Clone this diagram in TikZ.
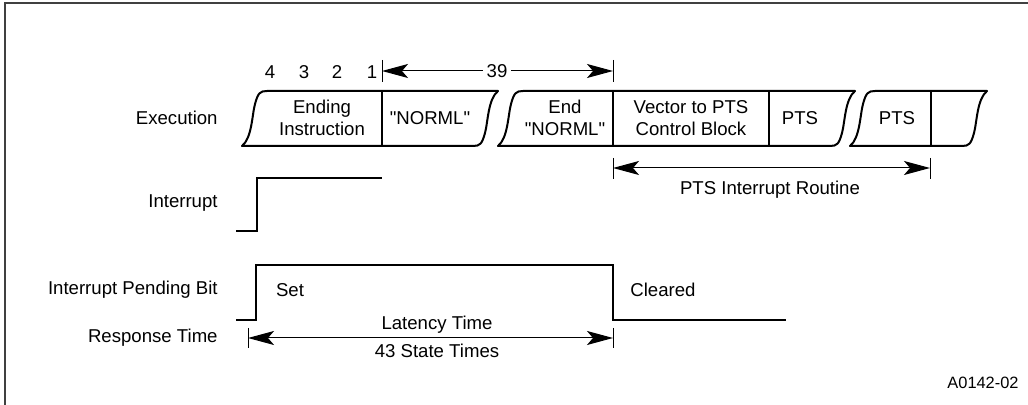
\documentclass[tikz,border=0pt]{standalone}
\usepackage{fontspec}
\setmainfont{Liberation Sans}[Ligatures=TeXOff]
\usetikzlibrary{arrows.meta}
\tikzset{
  wave/.style={line width=1pt},
  seg/.style={line width=1pt,line join=round},
  divider/.style={line width=0.7pt},
  tickline/.style={line width=0.5pt},
  dim/.style={line width=0.5pt,
    {Stealth[length=13pt,width=7pt,inset=3pt]}-{Stealth[length=13pt,width=7pt,inset=3pt]}},
  lbl/.style={font=\fontsize{9.3}{11}\selectfont,inner sep=0pt,align=center},
  rowlbl/.style={lbl,anchor=east},
}
% one slanted execution segment: bottom-left x, top-right x
\newcommand{\execseg}[2]{%
  \draw[seg] (#1,146) .. controls ({#1+10},138) and ({#1+10},115) .. ({#1+13},104)
    .. controls ({#1+16},93) and ({#1+18},91) .. ({#1+25},91) -- (#2,91)
    .. controls ({#2-10},99) and ({#2-10},122) .. ({#2-13},133)
    .. controls ({#2-16},144) and ({#2-18},146) .. ({#2-25},146) -- cycle;}
\begin{document}
\begin{tikzpicture}[x=0.5pt,y=-0.5pt]
  \useasboundingbox (0,0) rectangle (1028,405);
  \draw[black!75,line width=1pt] (5,405) -- (5,3) -- (1028,3);
  % row labels
  \node[rowlbl] (lexec) at (218,118) {Execution};
  \node[rowlbl] (lint) at (218,203) {Interrupt};
  \node[rowlbl] (lpend) at (218,290) {Interrupt Pending Bit};
  \node[rowlbl] (lresp) at (218,338) {Response Time};
  % execution row
  \execseg{242}{498}
  \execseg{498}{855}
  \execseg{850}{987}
  \foreach \x in {382,613,769,931}{\draw[divider] (\x,91) -- (\x,146);}
  \node[lbl] (ending) at (322,118) {Ending\\Instruction};
  \node[lbl] (norml) at (430,118) {"NORML"};
  \node[lbl] (endnorml) at (565,118) {End\\"NORML"};
  \node[lbl] (vector) at (691,118) {Vector to PTS\\Control Block};
  \node[lbl] (ptsa) at (800,118) {PTS};
  \node[lbl] (ptsb) at (897,118) {PTS};
  % countdown
  \foreach \n/\x in {4/270,3/304,2/337,1/372}{\node[lbl] (cnt\n) at (\x,72) {\n};}
  \coordinate (fourl) at (382,71);
  \coordinate (fourr) at (613,71);
  \draw[tickline] (382,60) -- (382,82);
  \draw[tickline] (613,60) -- (613,82);
  \draw[dim] (fourl) -- (fourr);
  \node[lbl,fill=white,inner xsep=2pt] (n39) at (497,71) {39};
  % PTS routine
  \coordinate (ptsl) at (613,168);
  \coordinate (ptsr) at (930,168);
  \draw[tickline] (613,158) -- (613,179);
  \draw[tickline] (930,158) -- (930,179);
  \draw[dim] (ptsl) -- (ptsr);
  \node[lbl] (routine) at (770,190) {PTS Interrupt Routine};
  % interrupt
  \draw[wave] (236,231) -- (257,231) -- (257,178) -- (382,178);
  % pending bit
  \draw[wave] (236,320) -- (256,320) -- (256,265) -- (613,265) -- (613,320) -- (786,320);
  \node[lbl] (set) at (290,290) {Set};
  \node[lbl] (cleared) at (663,290) {Cleared};
  % latency
  \coordinate (latl) at (248,338);
  \coordinate (latr) at (613,338);
  \draw[tickline] (248,328) -- (248,348);
  \draw[tickline] (613,328) -- (613,348);
  \draw[dim] (latl) -- (latr);
  \node[lbl] (lattime) at (437,325) {Latency Time};
  \node[lbl] (states) at (437,351) {43 State Times};
  \node[lbl,font=\fontsize{8.2}{10}\selectfont] (figid) at (983,383) {A0142-02};
\end{tikzpicture}
\end{document}
